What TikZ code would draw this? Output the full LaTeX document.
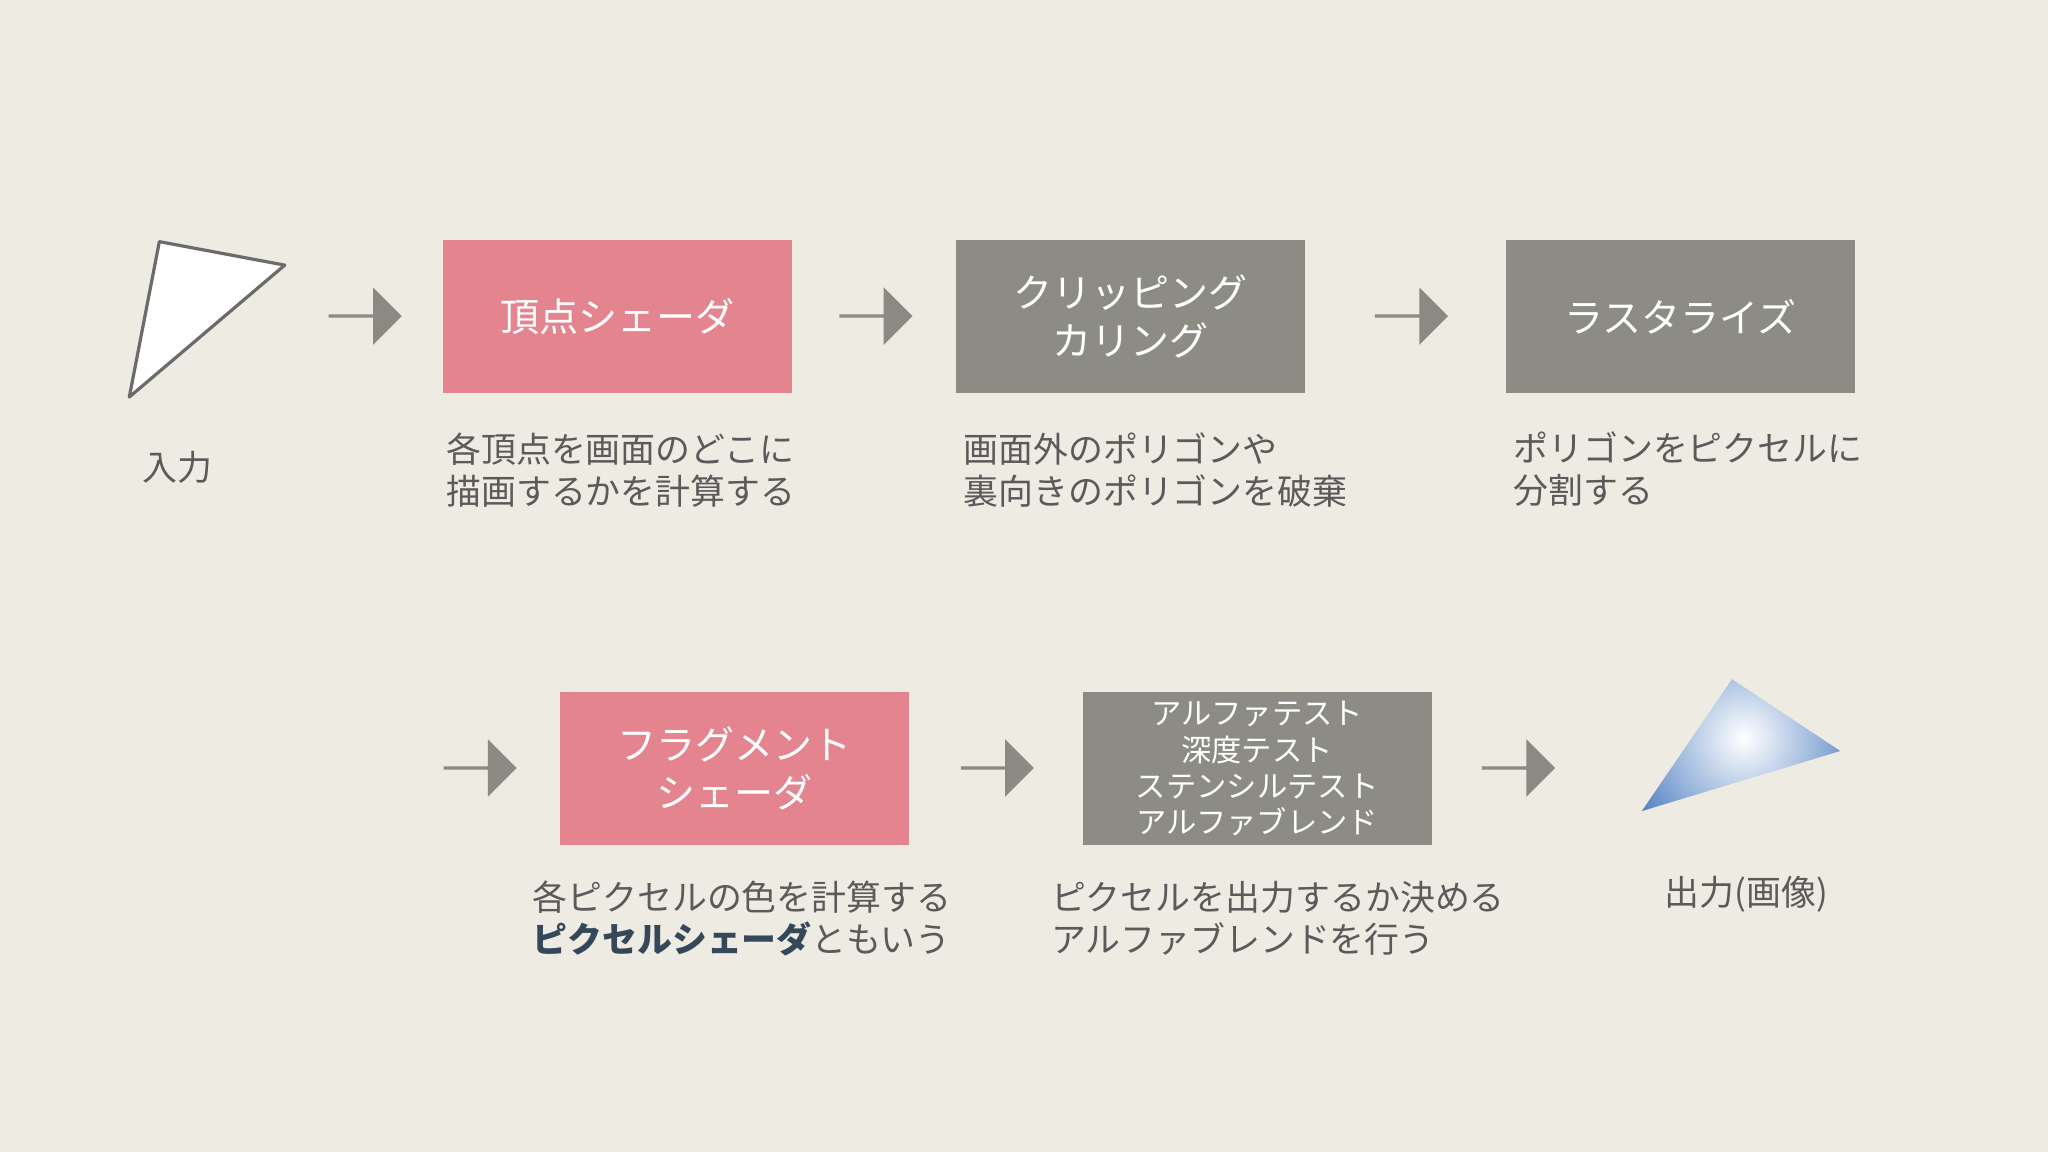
\documentclass[tikz,border=0pt]{standalone}
\usepackage{fontspec}
\setmainfont{Noto Sans CJK JP}
\usetikzlibrary{shapes.arrows}
\definecolor{bg}{HTML}{EEEBE2}
\definecolor{pinkbox}{HTML}{E3848F}
\definecolor{graybox}{HTML}{8C8B84}
\definecolor{arrowc}{HTML}{8A8A82}
\definecolor{txt}{HTML}{5A5A5A}
\definecolor{bold}{HTML}{34485A}
\begin{document}
\begin{tikzpicture}[x=0.01cm,y=-0.01cm,
  box/.style={minimum width=2.67cm,minimum height=1.17cm,inner sep=0pt,text=white,align=center,font=\fontsize{8.5}{10.5}\selectfont},
  pbox/.style={box,fill=pinkbox},
  gbox/.style={box,fill=graybox},
  desc/.style={anchor=west,align=left,text=txt,font=\fontsize{7.6}{9.1}\selectfont,inner sep=0pt},
  arr/.style={single arrow,fill=arrowc,minimum width=0.44cm,single arrow head extend=0.12cm,minimum height=0.56cm,inner sep=0pt,shape border rotate=0}]
\fill[bg] (0,0) rectangle (1568,882);
\useasboundingbox (0,0) rectangle (1568,882);
% input triangle
\draw[fill=white,draw=txt!90,line width=0.7pt,line join=round] (122,185) -- (218,203) -- (99,304) -- cycle;
\node[text=txt,font=\fontsize{7.6}{9}\selectfont] (in) at (136,358) {入力};
% boxes
\node[pbox] (vs) at (472.5,242.5) {頂点シェーダ};
\node[gbox] (clip) at (865.5,242.5) {クリッピング\\カリング};
\node[gbox] (ras) at (1286.5,242.5) {ラスタライズ};
\node[pbox] (fs) at (562.5,588.5) {フラグメント\\シェーダ};
\node[gbox,font=\fontsize{6.6}{7.9}\selectfont] (test) at (962.5,588.5) {アルファテスト\\深度テスト\\ステンシルテスト\\アルファブレンド};
% arrows
\node[arr] (a1) at (279,242) {};
\node[arr] (a2) at (670,242) {};
\node[arr] (a3) at (1080,242) {};
\node[arr] (a4) at (367,588) {};
\node[arr] (a5) at (763,588) {};
\node[arr] (a6) at (1162,588) {};
% descriptions
\node[desc] (d1) at (341,360) {各頂点を画面のどこに\\描画するかを計算する};
\node[desc] (d2) at (737,360) {画面外のポリゴンや\\裏向きのポリゴンを破棄};
\node[desc] (d3) at (1158,359) {ポリゴンをピクセルに\\分割する};
\node[desc] (d4) at (407,703) {各ピクセルの色を計算する\\{\bfseries\color{bold}ピクセルシェーダ}ともいう};
\node[desc] (d5) at (804,703) {ピクセルを出力するか決める\\アルファブレンドを行う};
% output triangle
\begin{scope}
\clip (1257,621) -- (1326,520) -- (1409,575) -- cycle;
\shade[inner color=white,outer color=blue!35!gray!80!cyan] (1335,565) circle (1.05cm);
\end{scope}
\node[text=txt,font=\fontsize{7.6}{9}\selectfont] (out) at (1337,685) {出力(画像)};
\end{tikzpicture}
\end{document}
